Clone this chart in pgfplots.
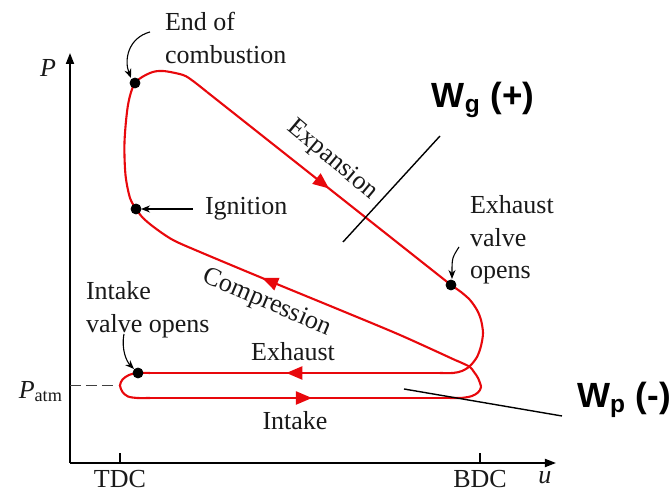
\documentclass[border=0pt]{standalone}
\usepackage{fontspec}
\setmainfont{Liberation Serif}
\newfontfamily\wfont{Liberation Sans}
\usepackage{pgfplots}
\pgfplotsset{compat=1.18}
\usetikzlibrary{arrows.meta,decorations.markings}
\definecolor{cyclered}{RGB}{232,8,12}
\newcommand{\lbl}{\fontsize{13}{16.3}\selectfont}
\newcommand{\wlbl}{\fontsize{17.5}{20}\selectfont\wfont\bfseries}
\tikzset{
  cyc/.style={cyclered, line width=1.05pt},
  midarrow/.style={postaction={decorate}, decoration={markings,
    mark=at position #1 with {\arrow{Triangle[length=8pt,width=6.5pt]}}}},
  note/.style={black, line width=0.55pt, -{Stealth[length=4.5pt,width=3.5pt]}},
}

\begin{document}
\begin{tikzpicture}
\begin{axis}[
  x=0.5pt, y=0.5pt,
  xmin=70, xmax=556, ymin=28, ymax=438,
  axis lines=left,
  axis line style={line width=0.9pt, -{Triangle[length=5.5pt,width=4pt]}},
  clip=false,
  xtick={120,480}, xticklabels={TDC,BDC},
  ytick={105.5}, yticklabels={\textit{P}\textsubscript{atm}},
  tick align=inside,
  major tick length=5pt,
  x tick style={line width=0.9pt, black},
  y tick style={draw=none},
  ticklabel style={font=\lbl, text=black!90},
  yticklabel style={yshift=-3pt},
]
% combustion top
\addplot[cyc, smooth] coordinates {
  (136,282) (130,293) (125.5,316) (124.5,349) (128,386) (135,408)
  (150,418) (163,420) (183,416) (193,410) (207,399)};
% expansion
\addplot[cyc, midarrow=0.5] coordinates {(207,399) (451,206)};
% exhaust valve opens -> BDC
\addplot[cyc, smooth] coordinates {
  (451,206) (461,199) (470,191) (477,181) (481,171) (483,158)
  (481,145) (477,134) (470,125) (462,120) (453,118) (440,118)};
% exhaust stroke
\addplot[cyc, midarrow=0.53] coordinates {(440,118) (150,118)};
% turn at TDC
\addplot[cyc, smooth] coordinates {
  (150,118) (138,118) (129,116) (122.5,111.5) (120,105.5)
  (122.5,99) (128,94.5) (137,93) (150,93)};
% intake stroke
\addplot[cyc, midarrow=0.54] coordinates {(150,93) (450,93)};
% turn at BDC
\addplot[cyc, smooth] coordinates {
  (450,93) (463,93.2) (472,95) (478,98.5) (481,104) (478,113)
  (474,119) (470,124) (462,128) (455,131)};
% compression
\addplot[cyc, smooth, midarrow=0.59] coordinates {
  (455,131) (400,156) (340,181) (267,211) (200,239) (173,251)
  (155,263) (143,273) (136,282)};
% state points
\addplot[only marks, mark=*, mark size=2.5pt, black] coordinates {
  (135,408) (136,282) (451,206) (138,118)};

\draw[black!75, line width=0.7pt, dash pattern=on 5.5pt off 2.5pt]
  (axis cs:70,105.5) -- (axis cs:118,105.5);

\node[font=\lbl, text=black!90] at (axis cs:48,423) {\textit{P}};
\node[font=\lbl, text=black!90] at (axis cs:545,13) {\textit{u}};

\begin{scope}[every node/.style={font=\lbl, text=black!90}]
\node[anchor=west, align=left] at (axis cs:158,453) {End of\\combustion};
\draw[note] (axis cs:150,459) .. controls (axis cs:128,453) and (axis cs:124,431) .. (axis cs:131,413);
\node[anchor=west] at (axis cs:198,282) {Ignition};
\draw[note] (axis cs:193,282) -- (axis cs:141,282);
\node[rotate=-40] at (axis cs:332,331) {Expansion};
\node[anchor=west, align=left] at (axis cs:463,251) {Exhaust\\valve\\opens};
\draw[note] (axis cs:459,244) .. controls (axis cs:452,233) .. (axis cs:452,212);
\node[rotate=-23] at (axis cs:267,188) {Compression};
\node at (axis cs:293,139) {Exhaust};
\node at (axis cs:295,70) {Intake};
\node[anchor=west, align=left] at (axis cs:79,181) {Intake\\valve opens};
\draw[note] (axis cs:124,157) .. controls (axis cs:121,141) and (axis cs:127,129) .. (axis cs:134,122);
\end{scope}

\node[font=\wlbl] at (axis cs:483,391) {W\textsubscript{g} (+)};
\draw[black, line width=0.7pt] (axis cs:440,355) -- (axis cs:343,249);
\node[font=\wlbl] at (axis cs:624,91) {W\textsubscript{p} (-)};
\draw[black, line width=0.7pt] (axis cs:404,102) -- (axis cs:562,75);

\coordinate (bl) at (axis cs:0,0);
\coordinate (tr) at (axis cs:671,491);
\end{axis}
\pgfresetboundingbox
\path[use as bounding box] (bl) rectangle (tr);
\end{tikzpicture}
\end{document}
